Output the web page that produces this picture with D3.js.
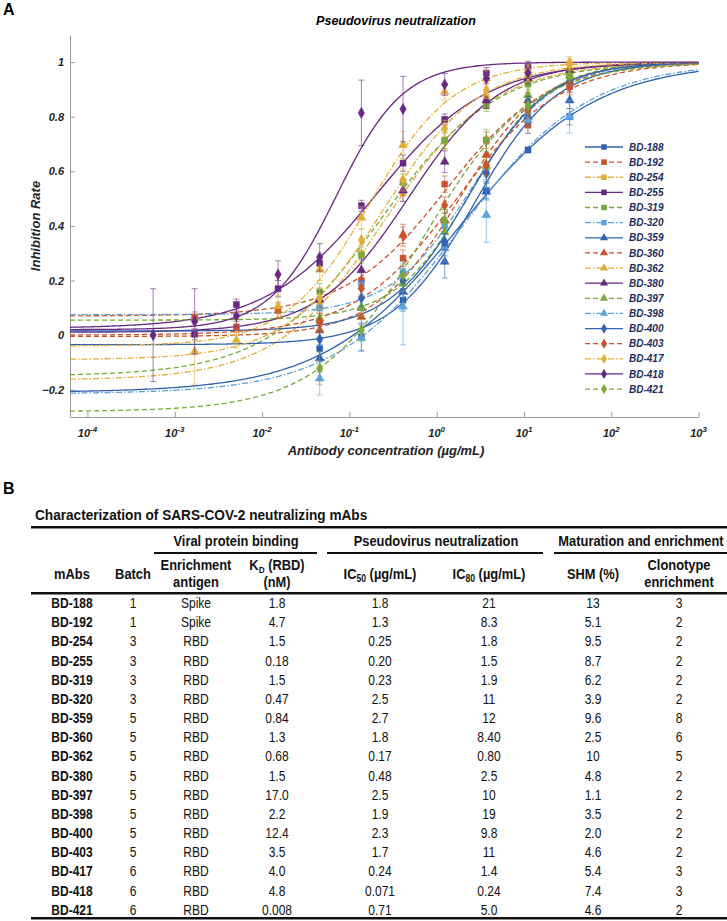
<!DOCTYPE html>
<html><head><meta charset="utf-8">
<script src="https://cdn.jsdelivr.net/npm/d3@7"></script>
<style>body{margin:0;background:#fff} svg{display:block}</style>
</head><body><svg id="c" width="727" height="921"></svg>
<script>
// ---------------- DATA ----------------
const concentrations = [5.65e-4, 1.69e-3, 5.08e-3, 1.524e-2, 4.572e-2, 0.1372, 0.4115, 1.235, 3.704, 11.11, 33.33];
const antibodies = ["BD-188","BD-192","BD-254","BD-255","BD-319","BD-320","BD-359","BD-360","BD-362","BD-380","BD-397","BD-398","BD-400","BD-403","BD-417","BD-418","BD-421"];
const styleIndex = [0,1,2,3,4,5,0,1,2,3,4,5,0,1,2,3,4];
const markerShape = ["square","square","square","square","square","square","triangle","triangle","triangle","triangle","triangle","triangle","diamond","diamond","diamond","diamond","diamond"];
// 4-parameter logistic fit parameters
const fitBottom = [-0.21, 0.07, -0.165, 0.025, -0.15, 0.075, -0.035, -0.005, -0.04, 0.01, 0.055, -0.215, 0.015, 0.0, -0.09, 0.02, -0.28];
const fitTop    = [1, 1, 1, 1, 1, 1, 1, 1, 1, 1, 1, 1, 1, 1, 1, 1, 1];
const fitIC50   = [1.8, 1.3, 0.25, 0.20, 0.23, 2.5, 2.7, 1.8, 0.17, 0.48, 2.5, 1.9, 2.3, 1.7, 0.24, 0.071, 0.71];
const fitHill   = [0.56, 0.75, 0.70, 0.69, 0.66, 0.94, 0.93, 0.90, 0.90, 0.84, 1.0, 0.60, 0.96, 0.74, 0.79, 1.14, 0.71];
// measured points: first concentration index, values, error bars
const pointStart = [4,1,4,1,4,4,4,4,1,4,4,4,4,4,4,0,4];
const pointValues = [
  [-0.05,-0.006,0.128,0.33,0.53,0.678,0.80],
  [0.065,0.03,0.09,0.05,0.20,0.282,0.553,0.714,0.769,0.91],
  [0.11,0.30,0.52,0.71,0.87,0.93,0.97],
  [0.003,0.112,0.17,0.263,0.474,0.63,0.79,0.96,0.983],
  [0.159,0.293,0.56,0.714,0.84,0.92,0.95],
  [0.099,0.19,0.23,0.40,0.60,0.82,0.92],
  [-0.085,0.10,0.159,0.269,0.525,0.80,0.86],
  [0.017,0.067,0.366,0.42,0.66,0.86,0.93],
  [-0.06,-0.018,0.106,0.24,0.43,0.696,0.891,0.94,0.97,1.0],
  [0.13,0.238,0.53,0.635,0.86,0.94,0.97],
  [0.06,0.10,0.19,0.378,0.62,0.879,0.95],
  [-0.159,-0.01,0.104,0.318,0.44,0.788,0.80],
  [-0.015,0.136,0.20,0.342,0.593,0.855,0.93],
  [0.05,0.172,0.366,0.476,0.623,0.824,0.91],
  [0.135,0.348,0.568,0.757,0.897,0.95,0.99],
  [0.0,0.05,0.07,0.222,0.285,0.814,0.828,0.918,0.94,0.96],
  [-0.122,0.018,0.22,0.42,0.714,0.84,0.95]
];
const pointErrors = [
  [0.04,0.05,0.04,0.04,0.03,0.01,0.03],
  [0.02,0.02,0.03,0.03,0.03,0.03,0.03,0.03,0.03,0.03],
  [0.03,0.03,0.03,0.03,0.02,0.02,0.02],
  [0.02,0.02,0.03,0.03,0.02,0.03,0.02,0.02,0.02],
  [0.03,0.03,0.03,0.03,0.02,0.02,0.02],
  [0.04,0.04,0.04,0.05,0.03,0.03,0.02],
  [0.05,0.04,0.03,0.06,0.03,0.03,0.03],
  [0.03,0.03,0.04,0.04,0.04,0.03,0.02],
  [0.12,0.03,0.04,0.04,0.04,0.05,0.03,0.03,0.02,0.02],
  [0.03,0.04,0.04,0.04,0.03,0.02,0.02],
  [0.04,0.03,0.03,0.04,0.03,0.03,0.02],
  [0.06,0.05,0.14,0.05,0.10,0.05,0.06],
  [0.03,0.03,0.03,0.03,0.03,0.02,0.02],
  [0.03,0.03,0.03,0.03,0.04,0.03,0.02],
  [0.04,0.04,0.04,0.03,0.03,0.02,0.02],
  [0.17,0.12,0.04,0.05,0.05,0.12,0.12,0.04,0.02,0.02],
  [0.06,0.04,0.04,0.04,0.04,0.03,0.02]
];
const xTickExponents = [-4,-3,-2,-1,0,1,2,3];
const yTickValues = [-0.2,0,0.2,0.4,0.6,0.8,1];

// Table
const tableMAbs = antibodies;
const tableBatch = ["1","1","3","3","3","3","5","5","5","5","5","5","5","5","6","6","6"];
const tableAntigen = ["Spike","Spike","RBD","RBD","RBD","RBD","RBD","RBD","RBD","RBD","RBD","RBD","RBD","RBD","RBD","RBD","RBD"];
const tableKD = ["1.8","4.7","1.5","0.18","1.5","0.47","0.84","1.3","0.68","1.5","17.0","2.2","12.4","3.5","4.0","4.8","0.008"];
const tableIC50 = ["1.8","1.3","0.25","0.20","0.23","2.5","2.7","1.8","0.17","0.48","2.5","1.9","2.3","1.7","0.24","0.071","0.71"];
const tableIC80 = ["21","8.3","1.8","1.5","1.9","11","12","8.40","0.80","2.5","10","19","9.8","11","1.4","0.24","5.0"];
const tableSHM = ["13","5.1","9.5","8.7","6.2","3.9","9.6","2.5","10","4.8","1.1","3.5","2.0","4.6","5.4","7.4","4.6"];
const tableClonotype = ["3","2","2","2","2","2","8","6","5","2","2","2","2","2","3","3","2"];

// ---------------- DRAW ----------------
const colors = ["#2F62B1","#C9532B","#E2AE3A","#672883","#78A93A","#5DA2DD"];
const dashes = [null,"5,3","6,2,1.5,2",null,"5,3","6,2,1.5,2"];
const svg = d3.select("#c");
const FONT = "Arial, 'Liberation Sans', Helvetica, sans-serif";

svg.append("text").attr("x",3).attr("y",15).attr("font-family",FONT).attr("font-weight","bold").attr("font-size",16).text("A");
svg.append("text").attr("x",3).attr("y",494).attr("font-family",FONT).attr("font-weight","bold").attr("font-size",16).text("B");

const x = d3.scaleLog().domain([Math.pow(10,-4.2), 1000]).range([70, 698.6]);
const y = d3.scaleLinear().domain([-0.3, 1.1]).range([417, 34.8]);

svg.append("text").attr("x",396).attr("y",25).attr("text-anchor","middle")
  .attr("font-family",FONT).attr("font-weight","bold").attr("font-style","italic").attr("font-size",12.5)
  .text("Pseudovirus neutralization");

// axes
const axisColor = "#9a9a9a";
const gx = svg.append("g").attr("transform","translate(0,417)")
  .call(d3.axisBottom(x).tickValues(xTickExponents.map(e=>Math.pow(10,e))).tickSize(-5).tickSizeOuter(0).tickFormat(()=>""));
const gy = svg.append("g").attr("transform","translate(70,0)")
  .call(d3.axisLeft(y).tickValues(yTickValues).tickSize(-5).tickSizeOuter(0).tickPadding(6).tickFormat(d=>d3.format("")(+d.toFixed(1))));
[gx,gy].forEach(g=>{ g.selectAll("path,line").attr("stroke",axisColor); });
gy.selectAll("text").attr("font-family",FONT).attr("font-weight","bold").attr("font-style","italic").attr("font-size",11).attr("fill","#222");

xTickExponents.forEach(e=>{
  const t = svg.append("text").attr("x",x(Math.pow(10,e))).attr("y",437).attr("text-anchor","middle")
    .attr("font-family",FONT).attr("font-weight","bold").attr("font-style","italic").attr("font-size",11).attr("fill","#222");
  t.append("tspan").text("10");
  t.append("tspan").attr("dy",-5).attr("font-size",8).text(String(e));
});
svg.append("text").attr("x",386).attr("y",455).attr("text-anchor","middle")
  .attr("font-family",FONT).attr("font-weight","bold").attr("font-style","italic").attr("font-size",13).attr("fill","#222")
  .text("Antibody concentration (µg/mL)");
svg.append("text").attr("transform","translate(40,226) rotate(-90)").attr("text-anchor","middle")
  .attr("font-family",FONT).attr("font-weight","bold").attr("font-style","italic").attr("font-size",13).attr("fill","#222")
  .text("Inhibition Rate");

svg.append("clipPath").attr("id","clip").append("rect").attr("x",70).attr("y",30).attr("width",630).attr("height",387);

function symbolPath(shape, s){
  s = s || 1;
  if(shape==="square") return d3.symbol(d3.symbolSquare, 36*s)();
  if(shape==="triangle") return d3.symbol(d3.symbolTriangle, 34*s)();
  return d3.symbol(d3.symbolDiamond, 36*s)();
}
const logistic = (i,c)=> fitBottom[i] + (fitTop[i]-fitBottom[i])/(1+Math.pow(fitIC50[i]/c, fitHill[i]));
const xs = d3.range(0,301).map(k=>Math.pow(10,-4.2+7.2*k/300));
const line = d3.line().x(d=>x(d[0])).y(d=>y(d[1]));

const plot = svg.append("g").attr("clip-path","url(#clip)");
antibodies.forEach((ab,i)=>{
  const col = colors[styleIndex[i]];
  plot.append("path").datum(xs.map(c=>[c,logistic(i,c)])).attr("d",line)
    .attr("fill","none").attr("stroke",col).attr("stroke-width",1.3)
    .attr("stroke-dasharray",dashes[styleIndex[i]]);
});
antibodies.forEach((ab,i)=>{
  const col = colors[styleIndex[i]];
  const pts = pointValues[i].map((v,k)=>({c:concentrations[pointStart[i]+k], v, e:pointErrors[i][k]}));
  const g = plot.append("g");
  pts.forEach(p=>{
    const px = x(p.c);
    g.append("path").attr("d",`M${px},${y(p.v-p.e)}V${y(p.v+p.e)}M${px-3},${y(p.v-p.e)}H${px+3}M${px-3},${y(p.v+p.e)}H${px+3}`)
      .attr("stroke",col).attr("stroke-opacity",0.6).attr("stroke-width",1).attr("fill","none");
    g.append("path").attr("d",symbolPath(markerShape[i])).attr("transform",`translate(${px},${y(p.v)})`)
      .attr("fill",col).attr("stroke",col).attr("stroke-width",0.5);
  });
});

// legend
const lg = svg.append("g");
antibodies.forEach((ab,i)=>{
  const ly = 147 + i*15.13;
  const col = colors[styleIndex[i]];
  lg.append("line").attr("x1",585).attr("x2",623).attr("y1",ly).attr("y2",ly)
    .attr("stroke",col).attr("stroke-width",1.3).attr("stroke-dasharray",dashes[styleIndex[i]]);
  lg.append("path").attr("d",symbolPath(markerShape[i],0.85)).attr("transform",`translate(604,${ly})`).attr("fill",col);
  lg.append("text").attr("x",629).attr("y",ly+3.6).attr("font-family",FONT).attr("font-weight","bold")
    .attr("font-style","italic").attr("font-size",10).attr("fill","#1c2d5c").text(ab);
});

// ---------------- TABLE ----------------
const tg = svg.append("g").attr("font-family",FONT).attr("fill","#111");
function ttext(xp, yp, str, bold, anchor, size, sx){
  return tg.append("text").attr("transform",`translate(${xp},${yp}) scale(${sx||0.86},1)`)
    .attr("text-anchor",anchor||"middle").attr("font-size",size||14).attr("font-weight",bold?"bold":"normal").text(str);
}
const HS = 15;   // header font size
const HS2 = 14;  // two-line header font size
ttext(35,520,"Characterization of SARS-COV-2 neutralizing mAbs",true,"start",15.5,0.88);
tg.append("rect").attr("x",31).attr("y",526).attr("width",696).attr("height",2.5).attr("fill","#111");
ttext(236,546,"Viral protein binding",true,"middle",HS);
ttext(436,546,"Pseudovirus neutralization",true,"middle",HS);
ttext(641,546,"Maturation and enrichment",true,"middle",HS);
[[154,317],[327,543],[554,727]].forEach(s=>tg.append("rect").attr("x",s[0]).attr("y",552).attr("width",s[1]-s[0]).attr("height",2).attr("fill","#111"));
const colX = [72,133,196,277,380,489,593,679];
ttext(colX[0],579,"mAbs",true,"middle",HS); ttext(colX[1],579,"Batch",true,"middle",HS);
ttext(colX[2],570,"Enrichment",true,"middle",HS2,0.92); ttext(colX[2],587,"antigen",true,"middle",HS2,0.92);
{ const t = ttext(colX[3],570,"",true,"middle",HS2,0.92); t.append("tspan").text("K"); t.append("tspan").attr("font-size",9).attr("dy",2.5).text("D"); t.append("tspan").attr("dy",-2.5).text(" (RBD)"); }
ttext(colX[3],587,"(nM)",true,"middle",HS2,0.92);
{ const t = ttext(colX[4],579,"",true,"middle",HS); t.append("tspan").text("IC"); t.append("tspan").attr("font-size",10).attr("dy",3).text("50"); t.append("tspan").attr("dy",-3).text(" (µg/mL)"); }
{ const t = ttext(colX[5],579,"",true,"middle",HS); t.append("tspan").text("IC"); t.append("tspan").attr("font-size",10).attr("dy",3).text("80"); t.append("tspan").attr("dy",-3).text(" (µg/mL)"); }
ttext(colX[6],579,"SHM (%)",true,"middle",HS);
ttext(colX[7],570,"Clonotype",true,"middle",HS2,0.92); ttext(colX[7],587,"enrichment",true,"middle",HS2,0.92);
tg.append("rect").attr("x",31).attr("y",592).attr("width",696).attr("height",2.5).attr("fill","#111");
const cols = [tableMAbs,tableBatch,tableAntigen,tableKD,tableIC50,tableIC80,tableSHM,tableClonotype];
tableMAbs.forEach((m,r)=>{
  const ry = 608 + r*19.17;
  cols.forEach((arr,c)=> ttext(colX[c], ry, arr[r], c===0));
});
tg.append("rect").attr("x",31).attr("y",917).attr("width",696).attr("height",2.5).attr("fill","#111");
</script></body></html>
